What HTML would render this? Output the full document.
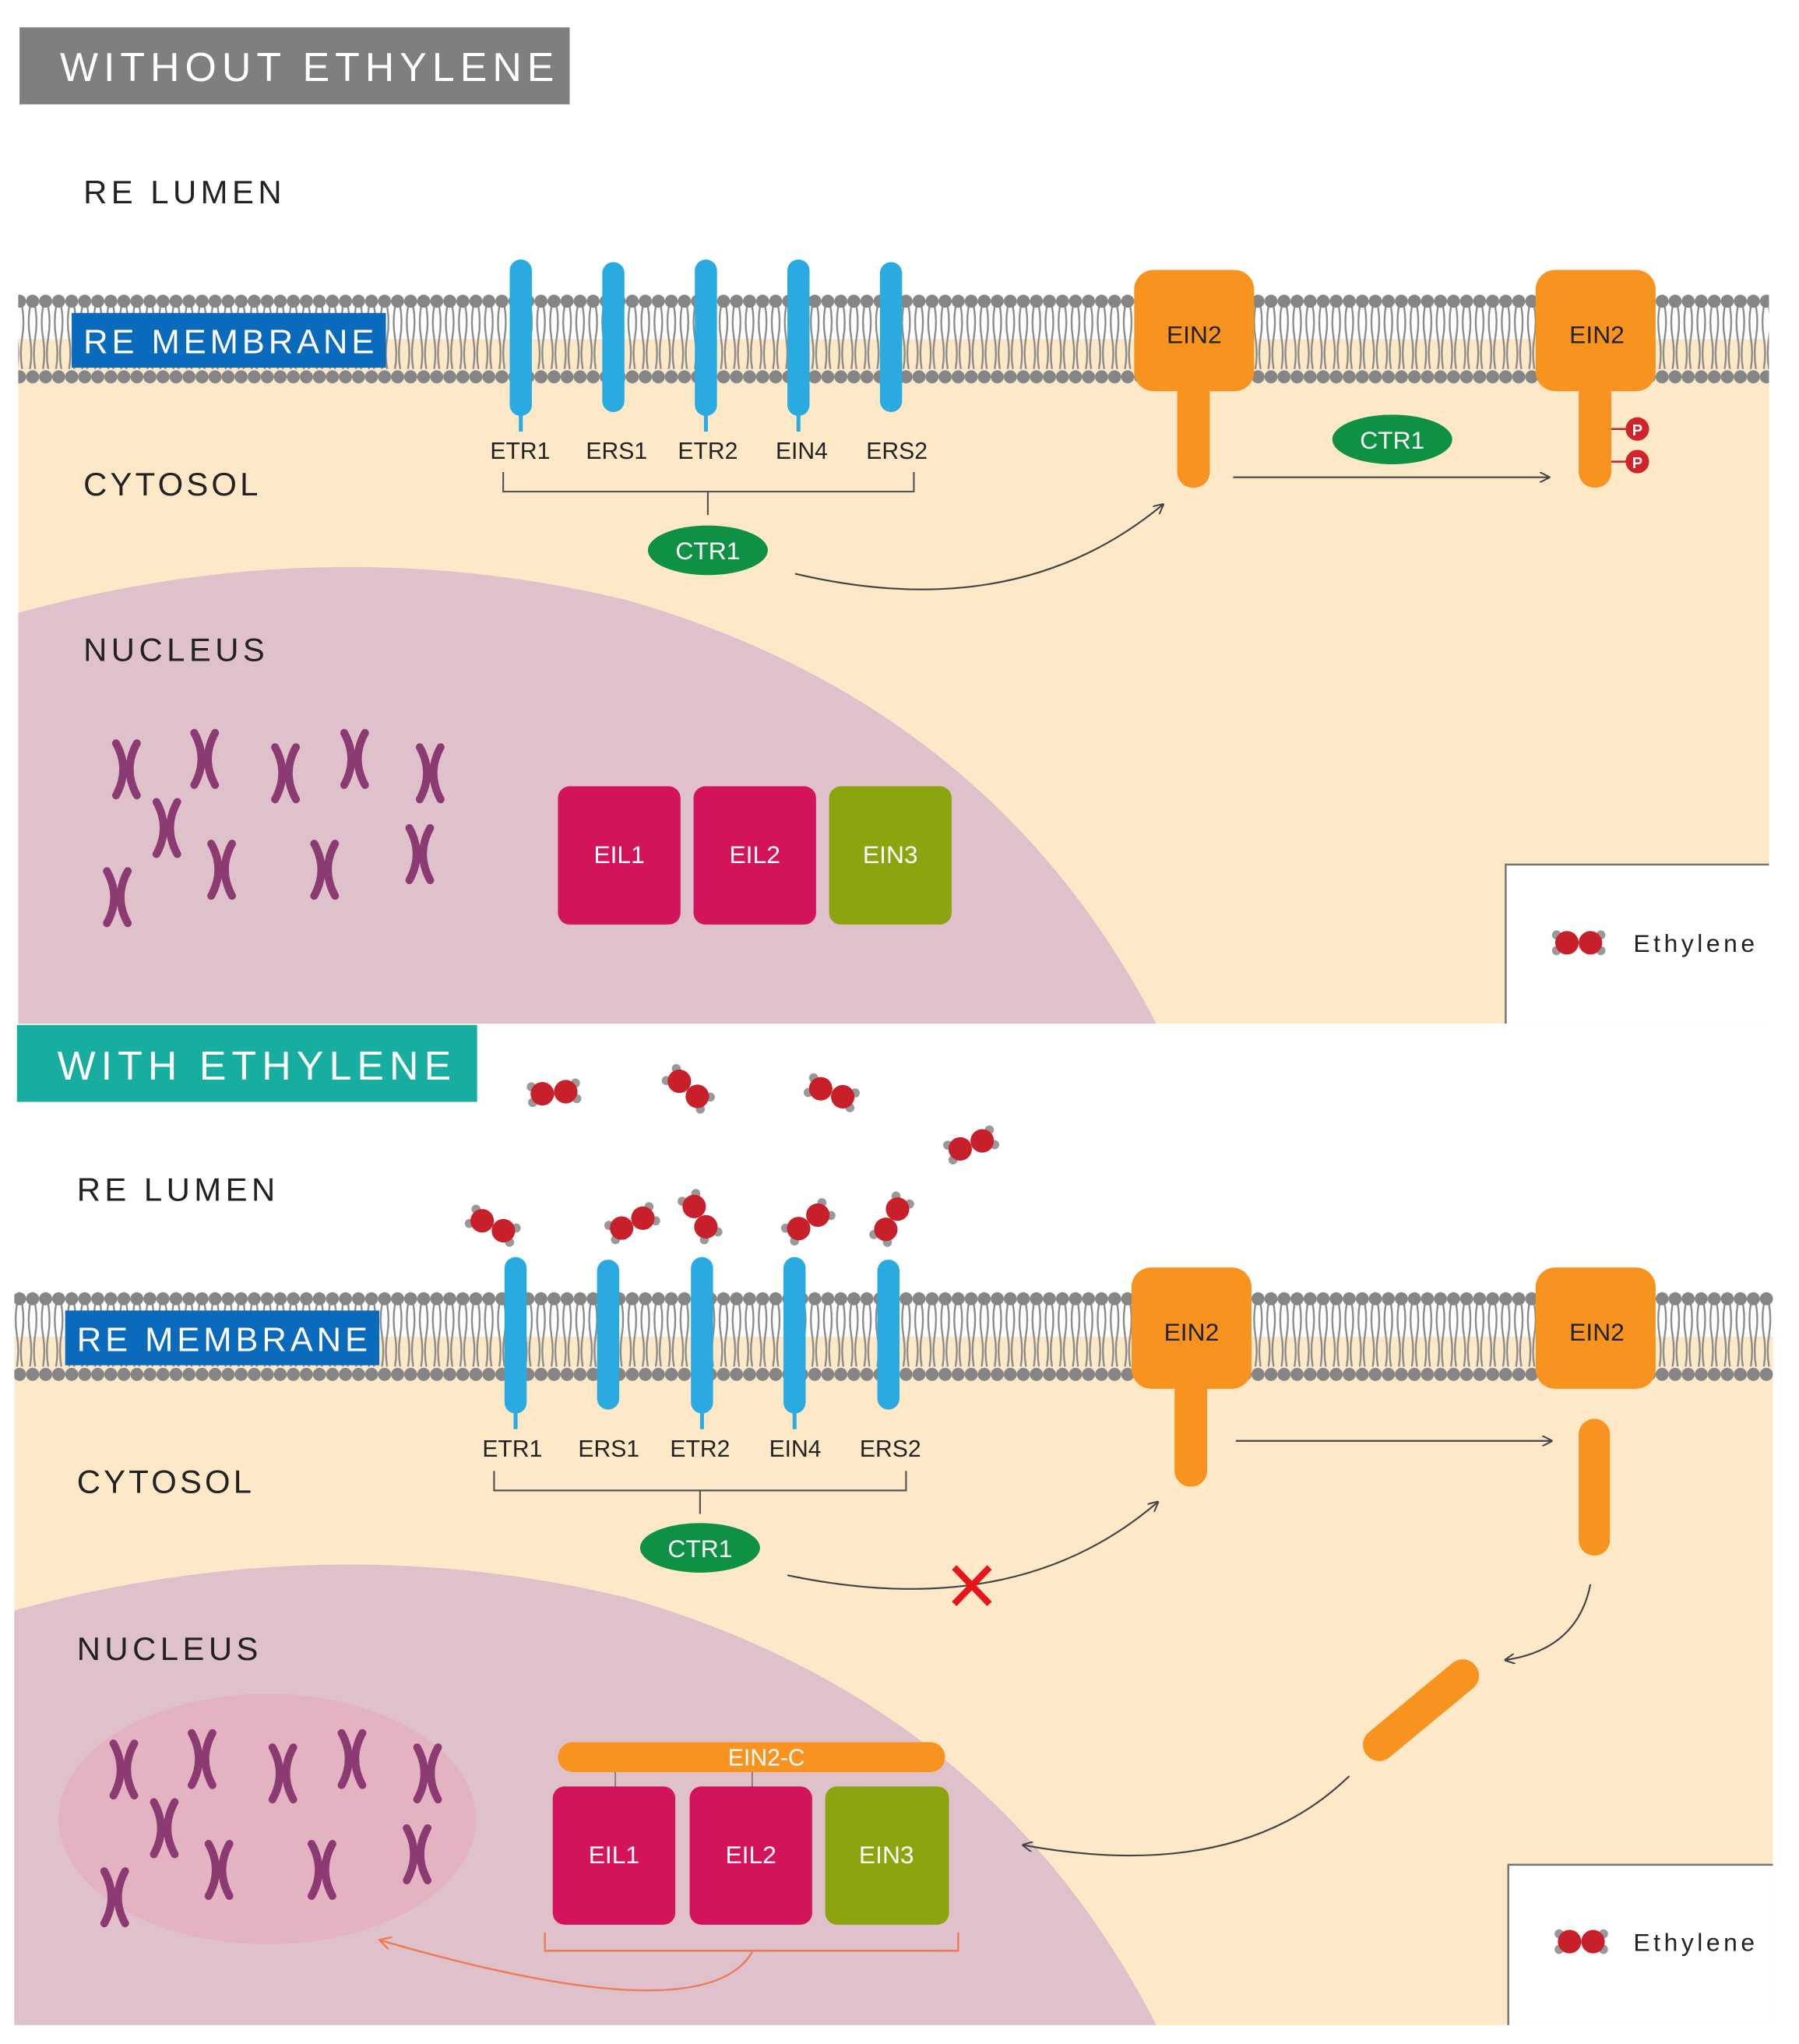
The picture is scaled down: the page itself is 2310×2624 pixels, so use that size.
<!DOCTYPE html>
<html><head><meta charset="utf-8"><style>
html,body{margin:0;padding:0;background:#fff}
svg{display:block}
text{font-family:"Liberation Sans",sans-serif}
</style></head><body>
<svg width="2310" height="2624" viewBox="0 0 1380 1567.5" preserveAspectRatio="none" xmlns="http://www.w3.org/2000/svg">
<defs>
<pattern id="mem1" x="0" y="225" width="10" height="70" patternUnits="userSpaceOnUse">
<path d="M3,10 q-2,12 0,24 q2,12 0,24 M7,10 q2,12 0,24 q-2,12 0,24" stroke="#8a8a8a" stroke-width="1.4" fill="none"/>
<circle cx="5" cy="6" r="5" fill="#858585"/><circle cx="5" cy="64" r="5" fill="#858585"/>
</pattern>
<pattern id="mem2" x="0" y="990" width="10" height="70" patternUnits="userSpaceOnUse">
<path d="M3,10 q-2,12 0,24 q2,12 0,24 M7,10 q2,12 0,24 q-2,12 0,24" stroke="#8a8a8a" stroke-width="1.4" fill="none"/>
<circle cx="5" cy="6" r="5" fill="#858585"/><circle cx="5" cy="64" r="5" fill="#858585"/>
</pattern>
<marker id="ah" markerWidth="8" markerHeight="8" refX="7" refY="4" orient="auto" markerUnits="userSpaceOnUse"><path d="M0,0 L8,4 L0,8" fill="none" stroke="#444" stroke-width="1.2"/></marker>
<marker id="ahr" markerWidth="10" markerHeight="10" refX="8" refY="5" orient="auto" markerUnits="userSpaceOnUse"><path d="M0,0 L9,5 L0,10" fill="none" stroke="#ee7b5a" stroke-width="1.5"/></marker>
<g id="mol">
<circle cx="-17" cy="-6" r="3.5" fill="#999"/><circle cx="-17" cy="6" r="3.5" fill="#999"/>
<circle cx="17" cy="-6" r="3.5" fill="#999"/><circle cx="17" cy="6" r="3.5" fill="#999"/>
<circle cx="-9" cy="0" r="9" fill="#c8202a"/><circle cx="9" cy="0" r="9" fill="#c8202a"/>
</g>
<g id="chr"><path d="M-8,-20 Q3,0 -8,20 M8,-20 Q-3,0 8,20" stroke="#8b3a72" stroke-width="6" fill="none" stroke-linecap="round"/></g>
<g id="chrs">
<use href="#chr" x="97" y="590"/><use href="#chr" x="157" y="582"/><use href="#chr" x="219" y="593"/>
<use href="#chr" x="272" y="582"/><use href="#chr" x="330" y="593"/><use href="#chr" x="128" y="635"/>
<use href="#chr" x="170" y="667"/><use href="#chr" x="249" y="667"/><use href="#chr" x="322" y="655"/>
<use href="#chr" x="90" y="688"/>
</g>
</defs>

<!-- ===== TOP PANEL ===== -->
<rect x="14" y="260" width="1343" height="525" fill="#fde8c8"/>
<path d="M14,470 Q250,405 480,460 Q760,540 887,785 L14,785 Z" fill="#dfc1cc"/>
<rect x="1155" y="663" width="202" height="122" fill="#fff"/>
<path d="M1155,785 L1155,663 L1357,663" fill="none" stroke="#777" stroke-width="1.5"/>
<rect x="14" y="225" width="1343" height="70" fill="url(#mem1)"/>
<rect x="15" y="21" width="422" height="59" fill="#7f7f7f"/>
<text x="46" y="62" font-size="31" fill="#fff" textLength="379" lengthAdjust="spacing">WITHOUT ETHYLENE</text>
<rect x="55" y="240" width="241" height="42" fill="#0a6bbd"/>
<text x="64" y="271" font-size="26" fill="#fff" textLength="223" lengthAdjust="spacing">RE MEMBRANE</text>
<text x="64" y="156" font-size="25" fill="#222" textLength="152" lengthAdjust="spacing">RE LUMEN</text>
<text x="64" y="380" font-size="25" fill="#222" textLength="134" lengthAdjust="spacing">CYTOSOL</text>
<text x="64" y="507" font-size="25" fill="#222" textLength="139" lengthAdjust="spacing">NUCLEUS</text>
<g fill="#29abe2">
<rect x="391" y="199" width="17" height="120" rx="8.5"/><rect x="462" y="201" width="17" height="115" rx="8.5"/>
<rect x="533" y="199" width="17" height="120" rx="8.5"/><rect x="604" y="199" width="17" height="120" rx="8.5"/>
<rect x="675" y="201" width="17" height="115" rx="8.5"/>
<rect x="398" y="315" width="3" height="16"/><rect x="540" y="315" width="3" height="16"/><rect x="611" y="315" width="3" height="16"/>
</g>
<g font-size="18" fill="#222" text-anchor="middle">
<text x="399" y="352">ETR1</text><text x="473" y="352">ERS1</text><text x="543" y="352">ETR2</text><text x="615" y="352">EIN4</text><text x="688" y="352">ERS2</text>
</g>
<path d="M386,362 V377 H701 V362 M543,377 V395" fill="none" stroke="#555" stroke-width="1.3"/>
<ellipse cx="543" cy="422" rx="46" ry="19" fill="#0f9145"/>
<text x="543" y="429" font-size="19" fill="#fff" text-anchor="middle">CTR1</text>
<path d="M610,440 Q780,480 892,387" fill="none" stroke="#444" stroke-width="1.3" marker-end="url(#ah)"/>
<g fill="#f7931e">
<rect x="870" y="207" width="92" height="93" rx="15"/><rect x="903" y="290" width="25" height="84" rx="12"/>
<rect x="1178" y="207" width="92" height="93" rx="15"/><rect x="1211" y="290" width="25" height="84" rx="12"/>
</g>
<text x="916" y="263" font-size="19" fill="#222" text-anchor="middle">EIN2</text>
<text x="1225" y="263" font-size="19" fill="#222" text-anchor="middle">EIN2</text>
<path d="M1236,329 H1248 M1236,354 H1248" stroke="#c8202a" stroke-width="1.5"/>
<circle cx="1256" cy="329" r="9" fill="#d2232a"/><circle cx="1256" cy="354" r="9" fill="#d2232a"/>
<text x="1256" y="334" font-size="12" fill="#fff" text-anchor="middle" font-weight="bold">P</text>
<text x="1256" y="359" font-size="12" fill="#fff" text-anchor="middle" font-weight="bold">P</text>
<ellipse cx="1068" cy="337" rx="46" ry="19" fill="#0f9145"/>
<text x="1068" y="344" font-size="19" fill="#fff" text-anchor="middle">CTR1</text>
<path d="M946,366 H1188" stroke="#444" stroke-width="1.3" marker-end="url(#ah)"/>
<use href="#chrs"/>
<rect x="428" y="603" width="94" height="106" rx="9" fill="#d4145a"/>
<rect x="532" y="603" width="94" height="106" rx="9" fill="#d4145a"/>
<rect x="636" y="603" width="94" height="106" rx="9" fill="#8ca50f"/>
<g font-size="19" fill="#fff" text-anchor="middle"><text x="475" y="662">EIL1</text><text x="579" y="662">EIL2</text><text x="683" y="662">EIN3</text></g>
<use href="#mol" x="1211" y="723"/>
<text x="1253" y="730" font-size="19" fill="#222" textLength="93" lengthAdjust="spacing">Ethylene</text>

<!-- ===== BOTTOM PANEL ===== -->
<rect x="11" y="1025" width="1349" height="528" fill="#fde8c8"/>
<path d="M11,1235 Q250,1170 480,1225 Q760,1305 887,1553 L11,1553 Z" fill="#dfc1cc"/>
<ellipse cx="205" cy="1395" rx="160" ry="96" fill="#e3b3c1"/>
<rect x="1157" y="1430" width="203" height="123" fill="#fff"/>
<path d="M1157,1553 L1157,1430 L1360,1430" fill="none" stroke="#777" stroke-width="1.5"/>
<rect x="11" y="990" width="1349" height="70" fill="url(#mem2)"/>
<rect x="13" y="786" width="353" height="59" fill="#17ada1"/>
<text x="44" y="828" font-size="31" fill="#fff" textLength="302" lengthAdjust="spacing">WITH ETHYLENE</text>
<rect x="50" y="1005" width="241" height="42" fill="#0a6bbd"/>
<text x="59" y="1036" font-size="26" fill="#fff" textLength="223" lengthAdjust="spacing">RE MEMBRANE</text>
<text x="59" y="921" font-size="25" fill="#222" textLength="152" lengthAdjust="spacing">RE LUMEN</text>
<text x="59" y="1145" font-size="25" fill="#222" textLength="134" lengthAdjust="spacing">CYTOSOL</text>
<text x="59" y="1273" font-size="25" fill="#222" textLength="139" lengthAdjust="spacing">NUCLEUS</text>
<g fill="#29abe2">
<rect x="387" y="964" width="17" height="120" rx="8.5"/><rect x="458" y="966" width="17" height="115" rx="8.5"/>
<rect x="530" y="964" width="17" height="120" rx="8.5"/><rect x="601" y="964" width="17" height="120" rx="8.5"/>
<rect x="673" y="966" width="17" height="115" rx="8.5"/>
<rect x="394" y="1080" width="3" height="16"/><rect x="537" y="1080" width="3" height="16"/><rect x="608" y="1080" width="3" height="16"/>
</g>
<g font-size="18" fill="#222" text-anchor="middle">
<text x="393" y="1117">ETR1</text><text x="467" y="1117">ERS1</text><text x="537" y="1117">ETR2</text><text x="610" y="1117">EIN4</text><text x="683" y="1117">ERS2</text>
</g>
<path d="M379,1128 V1143 H695 V1128 M537,1143 V1161" fill="none" stroke="#555" stroke-width="1.3"/>
<ellipse cx="537" cy="1187" rx="46" ry="19" fill="#0f9145"/>
<text x="537" y="1194" font-size="19" fill="#fff" text-anchor="middle">CTR1</text>
<path d="M604,1208 Q780,1245 888,1152" fill="none" stroke="#444" stroke-width="1.3" marker-end="url(#ah)"/>
<path d="M732,1202 L759,1230 M759,1202 L732,1230" stroke="#e8141c" stroke-width="5"/>
<g fill="#f7931e">
<rect x="868" y="972" width="92" height="93" rx="15"/><rect x="901" y="1055" width="25" height="85" rx="12"/>
<rect x="1178" y="972" width="92" height="93" rx="15"/><rect x="1211" y="1088" width="24" height="105" rx="12"/>
</g>
<path d="M1058,1338 L1122,1285" stroke="#f7931e" stroke-width="25" stroke-linecap="round"/>
<text x="914" y="1028" font-size="19" fill="#222" text-anchor="middle">EIN2</text>
<text x="1225" y="1028" font-size="19" fill="#222" text-anchor="middle">EIN2</text>
<path d="M948,1105 H1190" stroke="#444" stroke-width="1.3" marker-end="url(#ah)"/>
<path d="M1220,1215 Q1210,1265 1155,1273" fill="none" stroke="#444" stroke-width="1.3" marker-end="url(#ah)"/>
<path d="M1035,1362 Q950,1445 785,1415" fill="none" stroke="#444" stroke-width="1.3" marker-end="url(#ah)"/>
<use href="#chrs" x="-2" y="767"/>
<rect x="428" y="1336" width="297" height="23" rx="11.5" fill="#f7931e"/>
<text x="588" y="1354" font-size="18" fill="#fff" text-anchor="middle">EIN2-C</text>
<path d="M472,1359 V1371 M577,1359 V1371" stroke="#777" stroke-width="1"/>
<rect x="424" y="1370" width="94" height="106" rx="9" fill="#d4145a"/>
<rect x="529" y="1370" width="94" height="106" rx="9" fill="#d4145a"/>
<rect x="633" y="1370" width="95" height="106" rx="9" fill="#8ca50f"/>
<g font-size="19" fill="#fff" text-anchor="middle"><text x="471" y="1429">EIL1</text><text x="576" y="1429">EIL2</text><text x="680" y="1429">EIN3</text></g>
<path d="M418,1482 V1496 H735 V1482" fill="none" stroke="#ee7b5a" stroke-width="1.5"/>
<path d="M577,1497 Q540,1560 292,1488" fill="none" stroke="#ee7b5a" stroke-width="1.5" marker-end="url(#ahr)"/>
<use href="#mol" transform="translate(425,838) rotate(-5)"/>
<use href="#mol" transform="translate(528,835) rotate(40)"/>
<use href="#mol" transform="translate(638,838) rotate(20)"/>
<use href="#mol" transform="translate(745,878) rotate(-20)"/>
<use href="#mol" transform="translate(378,940) rotate(25)"/>
<use href="#mol" transform="translate(485,938) rotate(-25)"/>
<use href="#mol" transform="translate(537,933) rotate(60)"/>
<use href="#mol" transform="translate(620,937) rotate(-35)"/>
<use href="#mol" transform="translate(684,935) rotate(-60)"/>
<use href="#mol" x="1213" y="1489"/>
<text x="1253" y="1496" font-size="19" fill="#222" textLength="93" lengthAdjust="spacing">Ethylene</text>
</svg>
</body></html>
